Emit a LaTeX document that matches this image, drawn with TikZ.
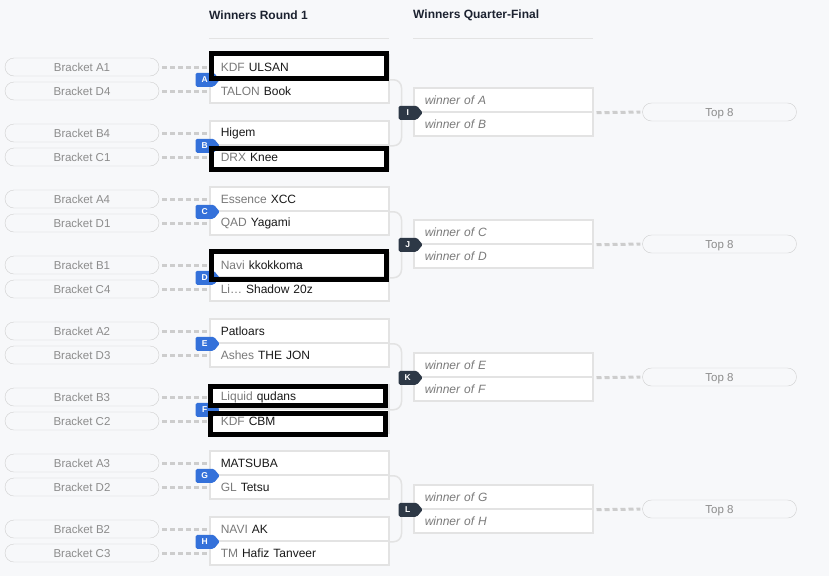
\documentclass[tikz,border=0pt]{standalone}
\usepackage{fontspec}
\setmainfont{Liberation Sans}
\usepackage{xcolor}
\usetikzlibrary{shapes.symbols,positioning}

\definecolor{pagebg}{HTML}{F7F8FA}
\definecolor{boxline}{HTML}{E3E3E3}
\definecolor{pillline}{HTML}{CFCFCF}
\definecolor{dashgray}{HTML}{CDCDCD}
\definecolor{orggray}{HTML}{7A7A7A}
\definecolor{pilltxt}{HTML}{8C8C8C}
\definecolor{tagblue}{HTML}{3471DA}
\definecolor{tagdark}{HTML}{2D3846}
\definecolor{headtxt}{HTML}{1C2230}

\newcommand{\org}[1]{\textcolor{orggray}{#1}}

\begin{document}
\begin{tikzpicture}[
  x=1pt, y=-1pt,
  head/.style     = {anchor=west, font=\fontsize{12}{14}\selectfont\bfseries, text=headtxt, inner sep=0pt},
  pill/.style     = {rectangle, rounded corners=9pt, draw=pillline, fill=pagebg,
                     minimum width=154pt, minimum height=18pt, inner sep=0pt,
                     text height=8.2pt, text depth=0pt,
                     text=pilltxt, font=\fontsize{11.5}{13}\selectfont},
  slot/.style     = {rectangle, draw=boxline, line width=1.5pt, fill=white, anchor=west,
                     minimum height=24pt, text width=157pt, inner xsep=11pt, inner ysep=0pt,
                     align=left, font=\fontsize{12}{14}\selectfont, text=black!90},
  qslot/.style    = {slot, text=orggray, font=\fontsize{12}{14}\selectfont\itshape},
  tag/.style      = {signal, signal to=east, signal pointer angle=100, rounded corners=1.5pt,
                     minimum width=24pt, minimum height=14pt, inner sep=0pt, text=white,
                     font=\fontsize{8.5}{8.5}\selectfont\bfseries},
  rtag/.style     = {tag, fill=tagblue},
  qtag/.style     = {tag, fill=tagdark},
  dashline/.style = {draw=dashgray, line width=3pt, dash pattern=on 5pt off 3pt,
                     shorten <=3pt, shorten >=2pt},
  joinline/.style = {draw=boxline, line width=1.5pt, rounded corners=8pt},
  hilite/.style   = {draw=black, line width=5pt}
]
\fill[pagebg] (0,0) rectangle (829,576);
\useasboundingbox (0,0) rectangle (829,576);

% column headers
\node[head] (h1) at (209,15) {Winners Round 1};
\node[head] (h2) at (413,15) {Winners Quarter-Final};
\draw[boxline, line width=1pt] (209,38) -- (389,38);
\draw[boxline, line width=1pt] (413,38) -- (593,38);

% seeds
\node[pill] (pA1) at (82, 67) {Bracket A1};
\node[pill] (pA2) at (82, 91) {Bracket D4};
\node[pill] (pB1) at (82,133) {Bracket B4};
\node[pill] (pB2) at (82,157) {Bracket C1};
\node[pill] (pC1) at (82,199) {Bracket A4};
\node[pill] (pC2) at (82,223) {Bracket D1};
\node[pill] (pD1) at (82,265) {Bracket B1};
\node[pill] (pD2) at (82,289) {Bracket C4};
\node[pill] (pE1) at (82,331) {Bracket A2};
\node[pill] (pE2) at (82,355) {Bracket D3};
\node[pill] (pF1) at (82,397) {Bracket B3};
\node[pill] (pF2) at (82,421) {Bracket C2};
\node[pill] (pG1) at (82,463) {Bracket A3};
\node[pill] (pG2) at (82,487) {Bracket D2};
\node[pill] (pH1) at (82,529) {Bracket B2};
\node[pill] (pH2) at (82,553) {Bracket C3};

% round 1
\node[slot] (A1) at (209, 67) {\org{KDF} ULSAN};
\node[slot] (A2) at (209, 91) {\org{TALON} Book};
\node[slot] (B1) at (209,133) {Higem};
\node[slot] (B2) at (209,157) {\org{DRX} Knee};
\node[slot] (C1) at (209,199) {\org{Essence} XCC};
\node[slot] (C2) at (209,223) {\org{QAD} Yagami};
\node[slot] (D1) at (209,265) {\org{Navi} kkokkoma};
\node[slot] (D2) at (209,289) {\org{Li…} Shadow 20z};
\node[slot] (E1) at (209,331) {Patloars};
\node[slot] (E2) at (209,355) {\org{Ashes} THE JON};
\node[slot] (F1) at (209,397) {\org{Liquid} qudans};
\node[slot] (F2) at (209,421) {\org{KDF} CBM};
\node[slot] (G1) at (209,463) {MATSUBA};
\node[slot] (G2) at (209,487) {\org{GL} Tetsu};
\node[slot] (H1) at (209,529) {\org{NAVI} AK};
\node[slot] (H2) at (209,553) {\org{TM} Hafiz Tanveer};

% quarter-finals
\node[qslot] (I1) at (413,100) {winner of A};
\node[qslot] (I2) at (413,124) {winner of B};
\node[qslot] (J1) at (413,232) {winner of C};
\node[qslot] (J2) at (413,256) {winner of D};
\node[qslot] (K1) at (413,365) {winner of E};
\node[qslot] (K2) at (413,389) {winner of F};
\node[qslot] (L1) at (413,497) {winner of G};
\node[qslot] (L2) at (413,521) {winner of H};

% top 8
\node[pill] (tI) at (719.5,112) {Top 8};
\node[pill] (tJ) at (719.5,244) {Top 8};
\node[pill] (tK) at (719.5,377) {Top 8};
\node[pill] (tL) at (719.5,509) {Top 8};

% seed connectors
\foreach \m in {A,B,C,D,E,F,G,H}{
  \draw[dashline] (p\m1.east) -- (\m1.west);
  \draw[dashline] (p\m2.east) -- (\m2.west);
}
\draw[dashline] (I1.south east) -- (tI.west);
\draw[dashline] (J1.south east) -- (tJ.west);
\draw[dashline] (K1.south east) -- (tK.west);
\draw[dashline] (L1.south east) -- (tL.west);

% feeders into quarter-finals
\draw[joinline] (A1.south east) -- ++(12,0) |- (B1.south east);
\draw[joinline] (C1.south east) -- ++(12,0) |- (D1.south east);
\draw[joinline] (E1.south east) -- ++(12,0) |- (F1.south east);
\draw[joinline] (G1.south east) -- ++(12,0) |- (H1.south east);

% match tags
\node[rtag, anchor=east, xshift=11pt] (tgA) at (A1.south west) {A};
\node[rtag, anchor=east, xshift=11pt] (tgB) at (B1.south west) {B};
\node[rtag, anchor=east, xshift=11pt] (tgC) at (C1.south west) {C};
\node[rtag, anchor=east, xshift=11pt] (tgD) at (D1.south west) {D};
\node[rtag, anchor=east, xshift=11pt] (tgE) at (E1.south west) {E};
\node[rtag, anchor=east, xshift=11pt] (tgF) at (F1.south west) {F};
\node[rtag, anchor=east, xshift=11pt] (tgG) at (G1.south west) {G};
\node[rtag, anchor=east, xshift=11pt] (tgH) at (H1.south west) {H};
\node[qtag, anchor=east, xshift=10pt] (tgI) at (I1.south west) {I};
\node[qtag, anchor=east, xshift=10pt] (tgJ) at (J1.south west) {J};
\node[qtag, anchor=east, xshift=10pt] (tgK) at (K1.south west) {K};
\node[qtag, anchor=east, xshift=10pt] (tgL) at (L1.south west) {L};

% highlighted slots
\draw[hilite] (211.5, 53.5) rectangle (386.5, 78.5);
\draw[hilite] (211.5,148.5) rectangle (386.5,169.5);
\draw[hilite] (211,  251.5) rectangle (386,  279.5);
\draw[hilite] (210.5,386.5) rectangle (385.5,405.5);
\draw[hilite] (210.5,413.5) rectangle (385.5,434.5);
\end{tikzpicture}
\end{document}
